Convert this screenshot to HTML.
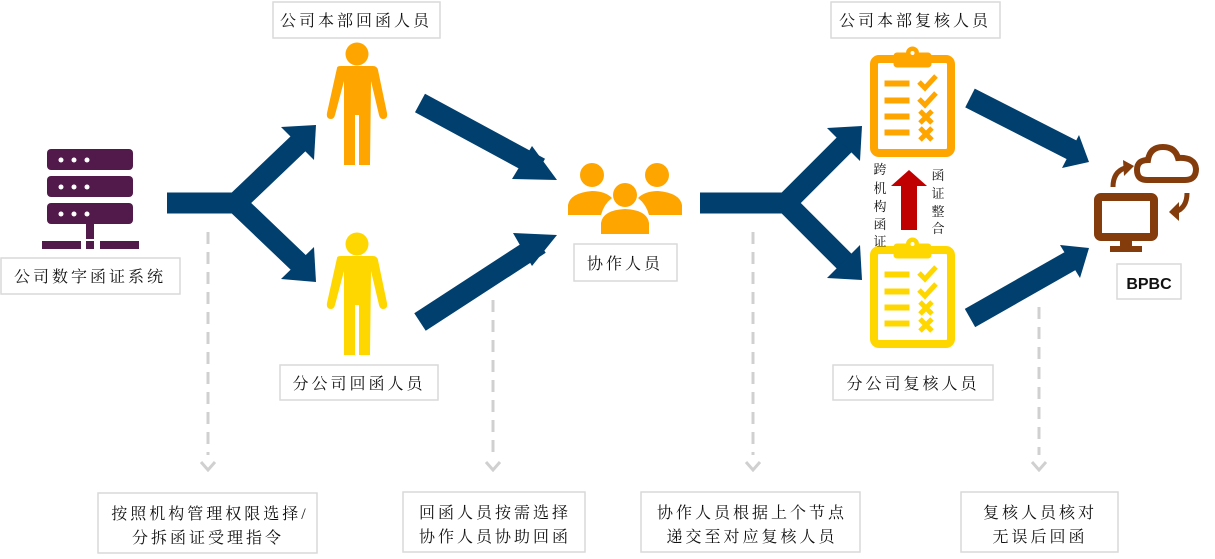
<!DOCTYPE html>
<html><head><meta charset="utf-8"><style>
html,body{margin:0;padding:0;background:#fff;}
svg{display:block;}
text{font-family:"Liberation Serif","Noto Serif CJK SC",serif;font-size:16px;fill:#111;}
.bx{fill:#fff;stroke:#d9d9d9;stroke-width:1.5;}
.dash{stroke:#d0d0d0;stroke-width:3;stroke-dasharray:12,8;fill:none;}
.chev{stroke:#d0d0d0;stroke-width:3;fill:none;}
.ar{stroke:#003f6e;stroke-width:21;fill:none;}
</style></head><body>
<svg width="1215" height="559" viewBox="0 0 1215 559" xmlns="http://www.w3.org/2000/svg">
<defs>
<g id="person">
<circle cx="0" cy="11" r="11.5"/>
<path d="M-20,25 Q-20,23 -16,23 L16,23 Q20,23 21,27 L30,70 Q31,76 26,76 Q23,76 22,72 L14,38 L13,122 L2,122 L2,72 L-2,72 L-2,122 L-13,122 L-13,38 L-22,72 Q-23,76 -26,76 Q-31,76 -30,70 Z"/>
</g>
<g id="clip">
<rect x="4" y="10" width="77" height="94" rx="5" fill="none" stroke-width="8"/>
<rect x="24" y="4" width="37" height="14" rx="3"/>
<circle cx="42.5" cy="4" r="6"/>
<circle cx="42.5" cy="4" r="2.5" fill="#fff"/>
<rect x="15" y="32" width="24" height="5"/><rect x="15" y="49" width="24" height="5"/>
<rect x="15" y="65" width="24" height="5"/><rect x="15" y="81" width="24" height="5"/>
<path d="M49,33 L55,39 L66,27" fill="none" stroke-width="5"/>
<path d="M49,50 L55,56 L66,44" fill="none" stroke-width="5"/>
<path d="M50,62 L62,74 M62,62 L50,74" fill="none" stroke-width="5"/>
<path d="M50,79 L62,91 M62,79 L50,91" fill="none" stroke-width="5"/>
</g>
</defs>

<!-- server -->
<g fill="#521a4a">
<rect x="47" y="149" width="86" height="21" rx="4"/>
<rect x="47" y="176" width="86" height="21" rx="4"/>
<rect x="47" y="203" width="86" height="21" rx="4"/>
<rect x="86" y="224" width="8" height="15"/>
<rect x="42" y="241" width="39" height="8"/>
<rect x="86" y="241" width="8" height="8"/>
<rect x="100" y="241" width="39" height="8"/>
</g>
<g fill="#fff">
<circle cx="61" cy="160" r="2.5"/><circle cx="74" cy="160" r="2.5"/><circle cx="87" cy="160" r="2.5"/>
<circle cx="61" cy="187" r="2.5"/><circle cx="74" cy="187" r="2.5"/><circle cx="87" cy="187" r="2.5"/>
<circle cx="61" cy="214" r="2.5"/><circle cx="74" cy="214" r="2.5"/><circle cx="87" cy="214" r="2.5"/>
</g>
<rect class="bx" x="1" y="258" width="179" height="36"/>
<text x="90" y="282" text-anchor="middle" letter-spacing="3">公司数字函证系统</text>

<!-- left fork -->
<path class="ar" d="M167,203 L236,203 L302,140 M236,203 L302,266"/>
<polygon fill="#003f6e" points="316,125 314,160 281,127"/>
<polygon fill="#003f6e" points="316,282 314,247 281,279"/>

<!-- persons -->
<g fill="#ffa500" transform="translate(357,43)"><use href="#person"/></g>
<g fill="#ffd700" transform="translate(357,233)"><use href="#person"/></g>
<rect class="bx" x="273" y="2" width="167" height="36"/>
<text x="356" y="26" text-anchor="middle" letter-spacing="3">公司本部回函人员</text>
<rect class="bx" x="280" y="365" width="158" height="35"/>
<text x="359" y="389" text-anchor="middle" letter-spacing="3">分公司回函人员</text>

<!-- arrows to collaborators -->
<path class="ar" d="M420,103 L540,168"/>
<polygon fill="#003f6e" points="557,180 532,146 512,179"/>
<path class="ar" d="M420,322 L540,244"/>
<polygon fill="#003f6e" points="557,235 513,233 532,266"/>

<!-- group -->
<g fill="#ffa500">
<circle cx="592" cy="175" r="12"/>
<path d="M568,215 L568,205 Q570,193 592,191 Q605,191 612,198 Q604,204 601,215 Z"/>
<circle cx="657" cy="175" r="12"/>
<path d="M682,215 L682,205 Q680,193 658,191 Q645,191 638,198 Q646,204 649,215 Z"/>
<circle cx="625" cy="195" r="12"/>
<path d="M601,234 L601,223 Q603,210 625,209 Q647,210 649,223 L649,234 Z"/>
</g>
<rect class="bx" x="574" y="244" width="103" height="37"/>
<text x="625" y="269" text-anchor="middle" letter-spacing="3">协作人员</text>

<!-- right fork -->
<path class="ar" d="M700,203 L786,203 L848,141 M786,203 L848,265"/>
<polygon fill="#003f6e" points="862,126 860,161 827,128"/>
<polygon fill="#003f6e" points="862,280 860,245 827,278"/>

<!-- clipboards -->
<g fill="#ffa500" stroke="#ffa500" transform="translate(870,49)"><use href="#clip"/></g>
<g fill="#ffd700" stroke="#ffd700" transform="translate(870,240)"><use href="#clip"/></g>
<rect class="bx" x="831" y="2" width="169" height="36"/>
<text x="915" y="26" text-anchor="middle" letter-spacing="3">公司本部复核人员</text>
<rect class="bx" x="833" y="365" width="160" height="35"/>
<text x="913" y="389" text-anchor="middle" letter-spacing="3">分公司复核人员</text>

<!-- red arrow -->
<polygon fill="#c00000" points="901,230 901,186 891,186 909,170 927,186 917,186 917,230"/>
<g style="font-size:13px">
<text x="880" y="174" text-anchor="middle" style="font-size:13px">跨</text>
<text x="880" y="193" text-anchor="middle" style="font-size:13px">机</text>
<text x="880" y="211" text-anchor="middle" style="font-size:13px">构</text>
<text x="880" y="229" text-anchor="middle" style="font-size:13px">函</text>
<text x="880" y="246" text-anchor="middle" style="font-size:13px">证</text>
<text x="938" y="180" text-anchor="middle" style="font-size:13px">函</text>
<text x="938" y="198" text-anchor="middle" style="font-size:13px">证</text>
<text x="938" y="216" text-anchor="middle" style="font-size:13px">整</text>
<text x="938" y="233" text-anchor="middle" style="font-size:13px">合</text>
</g>

<!-- arrows to BPBC -->
<path class="ar" d="M970,98 L1072,150"/>
<polygon fill="#003f6e" points="1089,162 1079,135 1062,168"/>
<path class="ar" d="M970,318 L1072,260"/>
<polygon fill="#003f6e" points="1089,248 1060,245 1080,278"/>

<!-- BPBC icon -->
<g fill="#843c0c" stroke="#843c0c">
<rect x="1098" y="197" width="56" height="40" rx="3" fill="none" stroke-width="8"/>
<rect x="1120" y="240" width="12" height="6" stroke="none"/>
<rect x="1110" y="246" width="32" height="6" stroke="none"/>
<path d="M1147,180 Q1137,180 1137,170 Q1137,160 1148,160 Q1150,147 1163,147 Q1175,147 1178,158 Q1195,157 1196,169 Q1196,180 1185,180 Z" fill="none" stroke-width="6"/>
<path d="M1113,187 Q1113,172 1125,168" fill="none" stroke-width="5"/>
<polygon stroke="none" points="1123,160 1134,166 1124,176"/>
<path d="M1187,193 Q1187,208 1175,212" fill="none" stroke-width="5"/>
<polygon stroke="none" points="1169,212 1179,202 1179,221"/>
</g>
<rect class="bx" x="1117" y="264" width="64" height="35"/>
<text x="1149" y="289" text-anchor="middle" style="font-family:'Liberation Sans',sans-serif;font-weight:bold;font-size:16px">BPBC</text>

<!-- dashed -->
<path class="dash" d="M208,232 L208,455"/><path class="chev" d="M201,462 L208,470 L215,462"/>
<path class="dash" d="M493,300 L493,455"/><path class="chev" d="M486,462 L493,470 L500,462"/>
<path class="dash" d="M753,232 L753,455"/><path class="chev" d="M746,462 L753,470 L760,462"/>
<path class="dash" d="M1039,307 L1039,455"/><path class="chev" d="M1032,462 L1039,470 L1046,462"/>

<!-- bottom boxes -->
<rect class="bx" x="98" y="493" width="219" height="60"/>
<text x="210" y="519" text-anchor="middle" letter-spacing="3">按照机构管理权限选择/</text>
<text x="208" y="543" text-anchor="middle" letter-spacing="3">分拆函证受理指令</text>
<rect class="bx" x="403" y="492" width="182" height="60"/>
<text x="495" y="518" text-anchor="middle" letter-spacing="3">回函人员按需选择</text>
<text x="495" y="542" text-anchor="middle" letter-spacing="3">协作人员协助回函</text>
<rect class="bx" x="641" y="492" width="219" height="60"/>
<text x="752" y="518" text-anchor="middle" letter-spacing="3">协作人员根据上个节点</text>
<text x="752" y="542" text-anchor="middle" letter-spacing="3">递交至对应复核人员</text>
<rect class="bx" x="961" y="492" width="157" height="60"/>
<text x="1040" y="518" text-anchor="middle" letter-spacing="3">复核人员核对</text>
<text x="1040" y="542" text-anchor="middle" letter-spacing="3">无误后回函</text>
</svg>
</body></html>
